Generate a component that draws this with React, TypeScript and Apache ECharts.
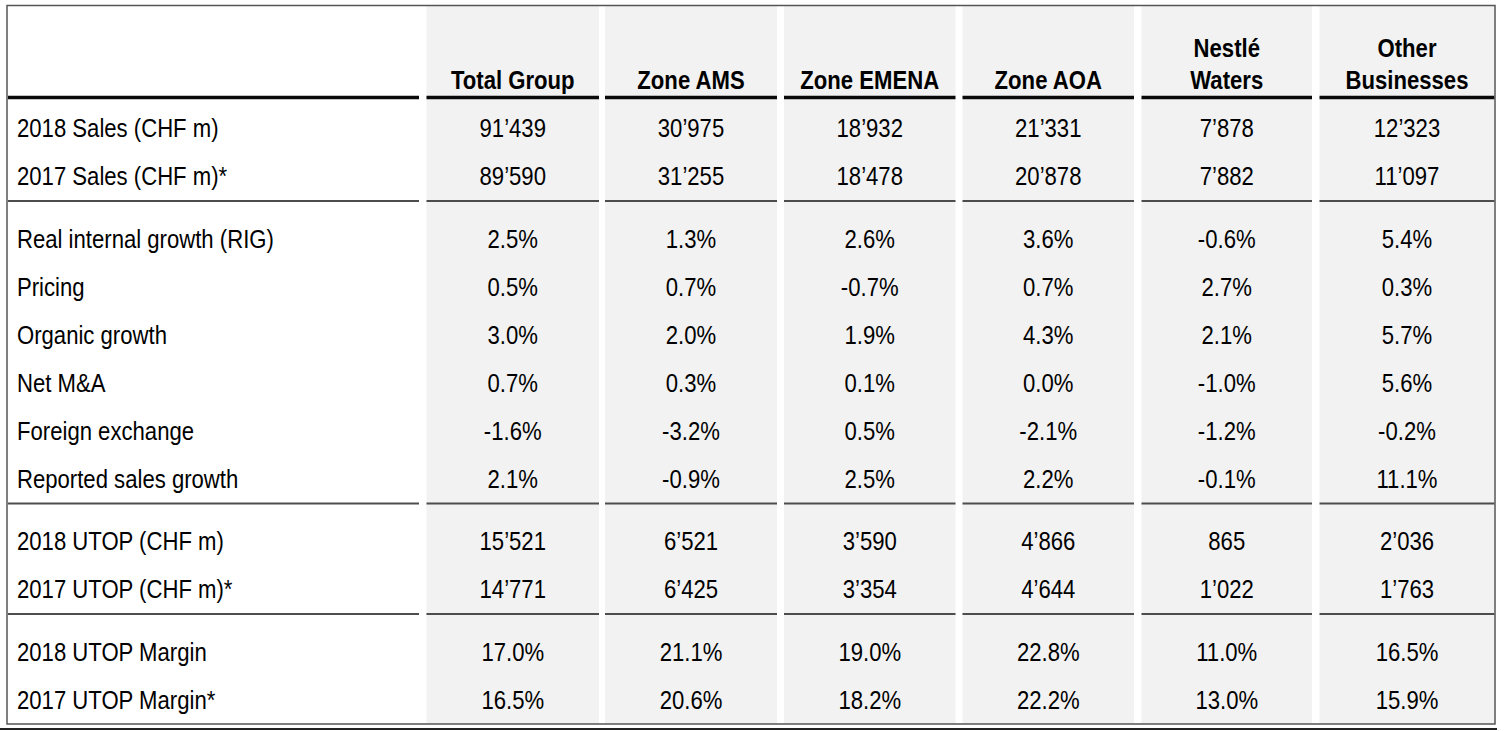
import React, { useEffect, useRef } from "react";
import * as echarts from "echarts";

// ---- Data ----
const headers: string[][] = [
  ["Total Group"],
  ["Zone AMS"],
  ["Zone EMENA"],
  ["Zone AOA"],
  ["Nestlé", "Waters"],
  ["Other", "Businesses"],
];

const rowLabels: string[] = [
  "2018 Sales (CHF m)",
  "2017 Sales (CHF m)*",
  "Real internal growth (RIG)",
  "Pricing",
  "Organic growth",
  "Net M&A",
  "Foreign exchange",
  "Reported sales growth",
  "2018 UTOP (CHF m)",
  "2017 UTOP (CHF m)*",
  "2018 UTOP Margin",
  "2017 UTOP Margin*",
];

// index of the row group each row belongs to
const rowGroups: number[] = [0, 0, 1, 1, 1, 1, 1, 1, 2, 2, 3, 3];

const totalGroup: string[] = ["91’439", "89’590", "2.5%", "0.5%", "3.0%", "0.7%", "-1.6%", "2.1%", "15’521", "14’771", "17.0%", "16.5%"];
const zoneAMS: string[] = ["30’975", "31’255", "1.3%", "0.7%", "2.0%", "0.3%", "-3.2%", "-0.9%", "6’521", "6’425", "21.1%", "20.6%"];
const zoneEMENA: string[] = ["18’932", "18’478", "2.6%", "-0.7%", "1.9%", "0.1%", "0.5%", "2.5%", "3’590", "3’354", "19.0%", "18.2%"];
const zoneAOA: string[] = ["21’331", "20’878", "3.6%", "0.7%", "4.3%", "0.0%", "-2.1%", "2.2%", "4’866", "4’644", "22.8%", "22.2%"];
const nestleWaters: string[] = ["7’878", "7’882", "-0.6%", "2.7%", "2.1%", "-1.0%", "-1.2%", "-0.1%", "865", "1’022", "11.0%", "13.0%"];
const otherBusinesses: string[] = ["12’323", "11’097", "5.4%", "0.3%", "5.7%", "5.6%", "-0.2%", "11.1%", "2’036", "1’763", "16.5%", "15.9%"];

const columnValues: string[][] = [totalGroup, zoneAMS, zoneEMENA, zoneAOA, nestleWaters, otherBusinesses];

// ---- Layout ----
const W = 1506;
const H = 731;
const FONT = "'Liberation Sans', Arial, Helvetica, sans-serif";
const FS = 25;
const SX = 0.885;
const labelSpan: [number, number] = [8, 419];
const colSpans: [number, number][] = [
  [426.5, 599],
  [605, 777],
  [784, 955.5],
  [962.5, 1134],
  [1141.5, 1312],
  [1319.5, 1494.5],
];
const TABLE_TOP = 6;
const TABLE_BOTTOM = 724;
const FIRST_ROW_Y = 129;
const ROW_STEP = 48;
const GROUP_GAP = 14.5;
const HEADER_LAST_Y = 81;
const HEADER_LINE_STEP = 32;
const HEADER_RULE_Y = 97.5;

function rowY(i: number): number {
  return FIRST_ROW_Y + ROW_STEP * i + GROUP_GAP * rowGroups[i];
}

function txt(x: number, y: number, s: string, align: string, bold = false): any {
  return {
    type: "text",
    x,
    y,
    scaleX: SX,
    silent: true,
    style: {
      text: s,
      x: 0,
      y: 0,
      fill: "#000",
      fontSize: FS,
      fontFamily: FONT,
      fontWeight: bold ? "bold" : "normal",
      align,
      verticalAlign: "middle",
    },
  };
}

function hline(x1: number, x2: number, y: number, w: number, color: string): any {
  return {
    type: "line",
    silent: true,
    shape: { x1, y1: y, x2, y2: y },
    style: { stroke: color, lineWidth: w },
  };
}

function buildElements(): any[] {
  const els: any[] = [];
  // column shading
  colSpans.forEach(([a, b]) => {
    els.push({
      type: "rect",
      silent: true,
      shape: { x: a, y: TABLE_TOP, width: b - a, height: TABLE_BOTTOM - TABLE_TOP },
      style: { fill: "#f2f2f2" },
    });
  });
  const allSpans = [labelSpan, ...colSpans];
  // header rule
  allSpans.forEach(([a, b]) => els.push(hline(a, b, HEADER_RULE_Y, 3.5, "#0a0a0a")));
  // group separators
  for (let i = 0; i < rowLabels.length - 1; i++) {
    if (rowGroups[i + 1] !== rowGroups[i]) {
      const y = rowY(i) + 24;
      allSpans.forEach(([a, b]) => els.push(hline(a, b, y, 2, "#4d4d4d")));
    }
  }
  // headers
  headers.forEach((lines, c) => {
    const cx = (colSpans[c][0] + colSpans[c][1]) / 2;
    lines.forEach((ln, k) => {
      const y = HEADER_LAST_Y - HEADER_LINE_STEP * (lines.length - 1 - k);
      els.push(txt(cx, y, ln, "center", true));
    });
  });
  // row labels
  rowLabels.forEach((lab, i) => els.push(txt(17, rowY(i), lab, "left")));
  // values
  columnValues.forEach((vals, c) => {
    const cx = (colSpans[c][0] + colSpans[c][1]) / 2;
    vals.forEach((v, i) => els.push(txt(cx, rowY(i), v, "center")));
  });
  // outer border
  els.push({
    type: "rect",
    silent: true,
    shape: { x: 7, y: 5.5, width: 1488, height: 718.5 },
    style: { fill: "none", stroke: "#555", lineWidth: 1.5 },
  });
  els.push(hline(0, 1497, 729, 2, "#222"));
  return els;
}

export default function App() {
  const ref = useRef<HTMLDivElement>(null);
  useEffect(() => {
    document.body.style.margin = "0";
    if (!ref.current) return;
    const chart = echarts.init(ref.current, undefined, { renderer: "svg" });
    chart.setOption({
      animation: false,
      backgroundColor: "#ffffff",
      graphic: { elements: buildElements() },
    });
    return () => chart.dispose();
  }, []);
  return <div ref={ref} style={{ width: W, height: H }} />;
}
